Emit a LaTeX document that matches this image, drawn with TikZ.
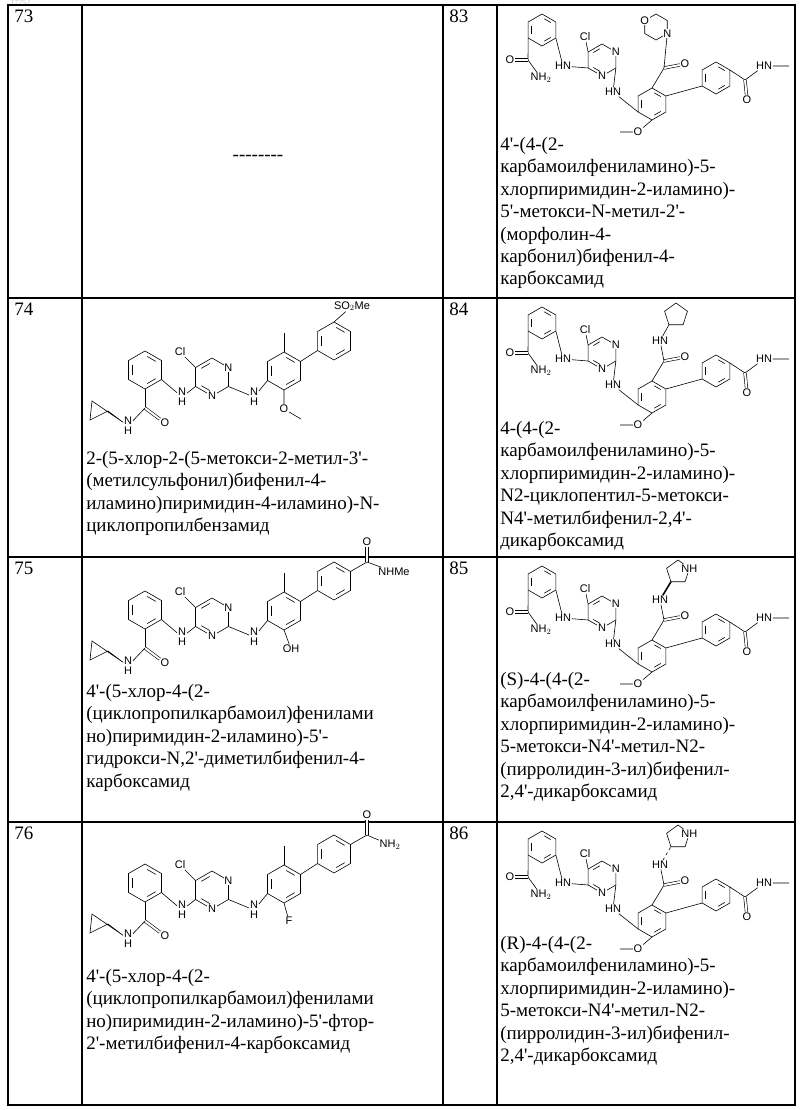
\documentclass[tikz,border=0pt]{standalone}
\usepackage{fontspec}
\setmainfont{Liberation Serif}[Ligatures=TeXOff]
\newfontfamily\atomfont{Liberation Sans}
\usetikzlibrary{calc}
\tikzset{
  atom/.style={font=\atomfont\fontsize{11}{10}\selectfont,fill=white,inner sep=0.6pt,align=center},
  desc/.style={anchor=north west,align=left,inner sep=0,font=\fontsize{19}{22.4}\selectfont},
  num/.style={anchor=north west,inner sep=0,font=\fontsize{19}{22}\selectfont},
  dbl/.style={double,double distance=2pt},
}
\newcommand\hexring[5]{% name, x, y, radius, first angle
  \foreach \k in {1,...,6}{\coordinate (#1-\k) at ($(#2,#3)+({#5+60*(\k-1)}:#4)$);}
  \coordinate (#1) at (#2,#3);
  \draw (#1-1)--(#1-2)--(#1-3)--(#1-4)--(#1-5)--(#1-6)--cycle;}
\newcommand\pentring[4]{%
  \foreach \k in {1,...,5}{\coordinate (#1-\k) at ($(#2,#3)+({-90+72*(\k-1)}:#4)$);}
  \draw (#1-1)--(#1-2)--(#1-3)--(#1-4)--(#1-5)--cycle;}
\newcommand\innerbond[3]{%
  \draw[shorten >=2.5pt,shorten <=2.5pt] ($(#1-#2)!0.22!(#1)$)--($(#1-#3)!0.22!(#1)$);}
\newcommand\arom[1]{\innerbond{#1}{1}{2}\innerbond{#1}{3}{4}\innerbond{#1}{5}{6}}
% benzamide - pyrimidine - aniline - phenyl, left column
\newcommand\leftcore[1]{%
  \hexring{#1a}{145}{370}{19}{-90}\arom{#1a}
  \hexring{#1p}{212}{377}{19}{-90}\innerbond{#1p}{6}{1}\innerbond{#1p}{4}{5}
  \hexring{#1c}{284}{371}{19}{-90}\arom{#1c}
  \hexring{#1d}{334}{341}{19}{-90}\arom{#1d}
  \node[atom] (#1n1) at (#1p-2) {N};
  \node[atom] (#1n2) at (#1p-4) {N};
  \node[atom] (#1cl) at (180,352) {Cl};
  \draw (#1p-6)--(#1cl);
  \node[atom] (#1h1) at (182,397) {N\\H};
  \draw (#1a-3)--(#1h1)--(#1p-5);
  \node[atom] (#1h2) at (254,397) {N\\H};
  \draw (#1p-3)--(#1h2)--(#1c-5);
  \coordinate (#1k) at (145,408);
  \draw (#1a-4)--(#1k);
  \node[atom] (#1o) at (165,423) {O};
  \draw[dbl] (#1k)--(#1o);
  \node[atom] (#1h3) at (128,426) {N\\H};
  \draw (#1k)--(#1h3);
  \coordinate (#1q1) at (108,411);
  \coordinate (#1q2) at (90,420);
  \coordinate (#1q3) at (92,401);
  \draw (#1h3)--(#1q1)--(#1q2)--(#1q3)--cycle;
  \coordinate (#1me) at (284,333);
  \draw (#1c-1)--(#1me);
  \draw (#1c-2)--(#1d-5);}
% benzamide - pyrimidine - central ring - phenyl amide, right column
\newcommand\rightcore[1]{%
  \hexring{#1a}{542}{30}{16}{-90}\arom{#1a}
  \hexring{#1p}{602}{60}{16}{-90}\innerbond{#1p}{6}{1}\innerbond{#1p}{4}{5}
  \hexring{#1c}{652}{104}{16}{-90}\arom{#1c}
  \hexring{#1d}{716}{78}{16}{-90}\arom{#1d}
  \coordinate (#1k) at (528,60);
  \draw (#1a-5)--(#1k);
  \node[atom] (#1o) at (510,60) {O};
  \draw[dbl] (#1k)--(#1o);
  \node[atom] (#1nh2) at (541,78) {NH$_2$};
  \draw (#1k)--(#1nh2);
  \node[atom] (#1h1) at (563,66) {HN};
  \draw (#1a-3)--(#1h1)--(#1p-5);
  \node[atom] (#1cl) at (585,37) {Cl};
  \draw (#1p-6)--(#1cl);
  \node[atom] (#1n1) at (#1p-2) {N};
  \node[atom] (#1n2) at (#1p-4) {N};
  \node[atom] (#1h2) at (613,92) {HN};
  \draw (#1p-3)--(#1h2)--(#1c-5);
  \node[atom] (#1om) at (638,132) {O};
  \coordinate (#1me) at (620,132);
  \draw (#1c-4)--(#1om)--(#1me);
  \draw (#1c-2)--(#1d-5);
  \coordinate (#1k2) at (745,80);
  \draw (#1d-2)--(#1k2);
  \node[atom] (#1o2) at (747,100) {O};
  \draw[dbl] (#1k2)--(#1o2);
  \node[atom] (#1h3) at (764,66) {HN};
  \coordinate (#1me2) at (789,66);
  \draw (#1k2)--(#1h3)--(#1me2);
  \coordinate (#1k3) at (664,68);
  \draw (#1c-1)--(#1k3);
  \node[atom] (#1o3) at (685,64) {O};
  \draw[dbl] (#1k3)--(#1o3);}
\begin{document}
\begin{tikzpicture}[x=1pt,y=-1pt,line width=0.6pt]
\useasboundingbox (0,0) rectangle (800,1110);
\fill[white] (0,0) rectangle (800,1110);
\node[anchor=north west,inner sep=0,text=black!25,font=\fontsize{8}{8}\selectfont] (page) at (10,0) {17252};
% table grid
\draw[line width=1.3pt] (8,5) rectangle (795,1105);
\foreach \y in {298,557,822}{\draw[line width=1.3pt] (8,\y)--(795,\y);}
\foreach \x in {82,443,497}{\draw[line width=1.3pt] (\x,5)--(\x,1105);}
% numbers
\node[num] (n73) at (14,10) {73};
\node[num] (n83) at (449,10) {83};
\node[num] (n74) at (14,303) {74};
\node[num] (n84) at (449,303) {84};
\node[num] (n75) at (14,562) {75};
\node[num] (n85) at (449,562) {85};
\node[num] (n76) at (14,827) {76};
\node[num] (n86) at (449,827) {86};
\node[font=\fontsize{19}{22}\selectfont,inner sep=0] (none) at (258,158) {--------};
% 74
\leftcore{r}
\node[atom] (rso) at (352,306) {SO$_2$Me};
\draw (rd-1)--(rso);
\node[atom] (rom) at (284,409) {O};
\coordinate (rme2) at (301,419);
\draw (rc-4)--(rom)--(rme2);
% 75
\begin{scope}[shift={(0,240)}]
\leftcore{s}
\coordinate (sk2) at (367,322);
\draw (sd-2)--(sk2);
\node[atom] (so2) at (367,302) {O};
\draw[dbl] (sk2)--(so2);
\node[atom] (snh) at (394,332) {NHMe};
\draw (sk2)--(snh);
\node[atom] (soh) at (291,409) {OH};
\draw (sc-4)--(soh);
\end{scope}
% 76
\begin{scope}[shift={(0,513)}]
\leftcore{t}
\coordinate (tk2) at (367,322);
\draw (td-2)--(tk2);
\node[atom] (to2) at (367,302) {O};
\draw[dbl] (tk2)--(to2);
\node[atom] (tnh) at (390,332) {NH$_2$};
\draw (tk2)--(tnh);
\node[atom] (tf) at (289,408) {F};
\draw (tc-4)--(tf);
\end{scope}
% 83
\rightcore{u}
\hexring{um}{656}{27}{13}{-90}
\node[atom] (un) at (um-3) {N};
\node[atom] (uo) at (um-6) {O};
\draw (uk3)--(un);
% 84
\begin{scope}[shift={(0,293)}]
\rightcore{v}
\node[atom] (vhn) at (660,48) {HN};
\draw (vk3)--(vhn);
\pentring{vr}{676}{22}{12}
\draw (vhn)--(vr-4);
\end{scope}
% 85
\begin{scope}[shift={(0,552)}]
\rightcore{w}
\node[atom] (whn) at (660,48) {HN};
\draw (wk3)--(whn);
\pentring{wr}{678}{20}{12}
\node[atom] (wnh) at (wr-2) {NH};
\draw[line width=1.6pt] (whn)--(wr-4);
\end{scope}
% 86
\begin{scope}[shift={(0,817)}]
\rightcore{x}
\node[atom] (xhn) at (660,48) {HN};
\draw (xk3)--(xhn);
\pentring{xr}{678}{20}{12}
\node[atom] (xnh) at (xr-2) {NH};
\draw[dashed] (xhn)--(xr-4);
\end{scope}
% names
\node[desc] (t83) at (500,137) {4'-(4-(2-\\карбамоилфениламино)-5-\\хлорпиримидин-2-иламино)-\\5'-метокси-N-метил-2'-\\(морфолин-4-\\карбонил)бифенил-4-\\карбоксамид};
\node[desc] (t74) at (86,451) {2-(5-хлор-2-(5-метокси-2-метил-3'-\\(метилсульфонил)бифенил-4-\\иламино)пиримидин-4-иламино)-N-\\циклопропилбензамид};
\node[desc] (t84) at (500,421) {4-(4-(2-\\карбамоилфениламино)-5-\\хлорпиримидин-2-иламино)-\\N2-циклопентил-5-метокси-\\N4'-метилбифенил-2,4'-\\дикарбоксамид};
\node[desc] (t75) at (86,684) {4'-(5-хлор-4-(2-\\(циклопропилкарбамоил)фенилами\\но)пиримидин-2-иламино)-5'-\\гидрокси-N,2'-диметилбифенил-4-\\карбоксамид};
\node[desc] (t85) at (500,672) {(S)-4-(4-(2-\\карбамоилфениламино)-5-\\хлорпиримидин-2-иламино)-\\5-метокси-N4'-метил-N2-\\(пирролидин-3-ил)бифенил-\\2,4'-дикарбоксамид};
\node[desc] (t76) at (86,969) {4'-(5-хлор-4-(2-\\(циклопропилкарбамоил)фенилами\\но)пиримидин-2-иламино)-5'-фтор-\\2'-метилбифенил-4-карбоксамид};
\node[desc] (t86) at (500,936) {(R)-4-(4-(2-\\карбамоилфениламино)-5-\\хлорпиримидин-2-иламино)-\\5-метокси-N4'-метил-N2-\\(пирролидин-3-ил)бифенил-\\2,4'-дикарбоксамид};
\end{tikzpicture}
\end{document}
